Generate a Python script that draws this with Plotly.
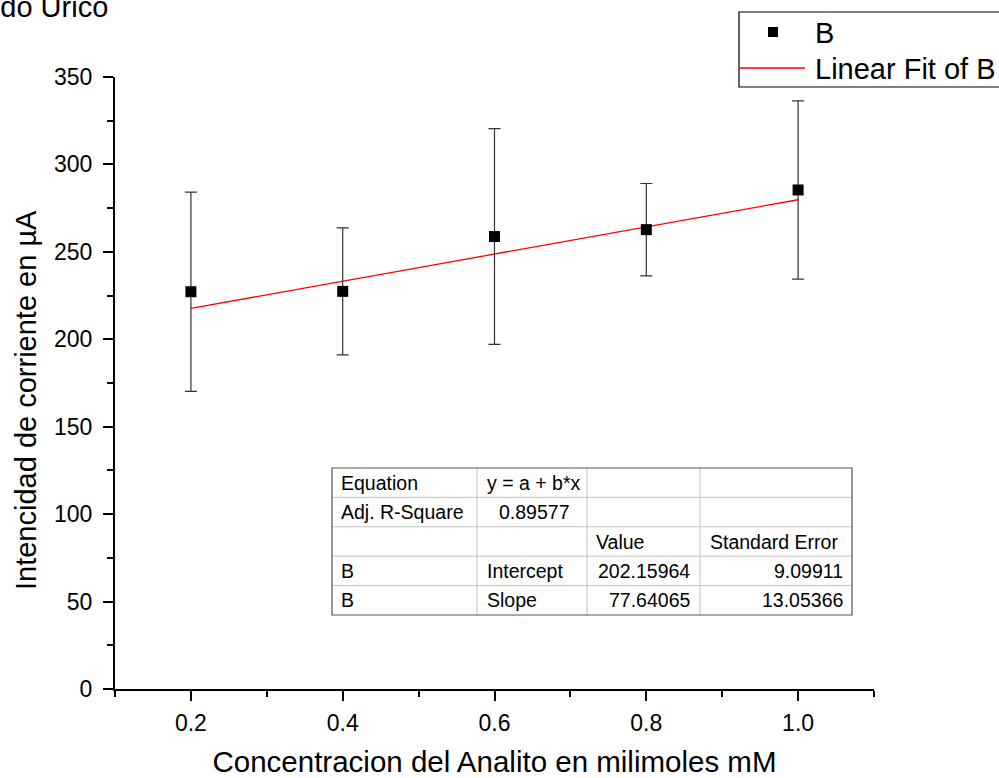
import plotly.graph_objects as go

# ---------------- data ----------------
conc_mM = [0.2, 0.4, 0.6, 0.8, 1.0]
current_uA = [227.2, 227.4, 258.8, 262.7, 285.4]
current_err = [57.0, 36.3, 61.7, 26.4, 51.0]

fit_intercept = 202.15964
fit_slope = 77.64065
fit_intercept_se = 9.09911
fit_slope_se = 13.05366
adj_r_square = 0.89577

x_tickvals = [0.2, 0.4, 0.6, 0.8, 1.0]
x_ticktext = ["0.2", "0.4", "0.6", "0.8", "1.0"]
y_tickvals = [0, 50, 100, 150, 200, 250, 300, 350]

series_name = "B"
fit_name = "Linear Fit of B"
title_text = "Acido Urico"
x_title = "Concentracion del Analito en milimoles mM"
y_title = "Intencidad de corriente en µA"

# ---------------- layout geometry ----------------
W, H = 999, 778
L, R, T, B = 115, 125, 77, 89
PW, PH = W - L - R, H - T - B


def px(X):
    return (X - L) / PW


def py(Y):
    return (H - B - Y) / PH


FONT = "Liberation Sans, Arial, sans-serif"

fit_x = [conc_mM[0], conc_mM[-1]]
fit_y = [fit_intercept + fit_slope * v for v in fit_x]

fig = go.Figure()
fig.add_trace(go.Scatter(
    x=fit_x, y=fit_y, mode="lines", name=fit_name,
    line=dict(color="#ff0000", width=1.3), showlegend=False,
))
fig.add_trace(go.Scatter(
    x=conc_mM, y=current_uA, mode="markers", name=series_name,
    marker=dict(symbol="square", size=11, color="black"),
    error_y=dict(type="data", array=current_err, visible=True,
                 color="#333333", thickness=1.2, width=6),
    showlegend=False,
))

shapes = []
annotations = []

# ---- legend (drawn manually) ----
shapes.append(dict(type="rect", xref="paper", yref="paper",
                   x0=px(739), x1=px(1010), y0=py(87), y1=py(12),
                   line=dict(color="black", width=1.2), fillcolor="white", layer="above"))
shapes.append(dict(type="rect", xref="paper", yref="paper",
                   x0=px(768), x1=px(778), y0=py(37), y1=py(27),
                   line=dict(color="black", width=0), fillcolor="black", layer="above"))
shapes.append(dict(type="line", xref="paper", yref="paper",
                   x0=px(740), x1=px(805), y0=py(68), y1=py(68),
                   line=dict(color="#ff0000", width=1.3), layer="above"))
annotations.append(dict(text=series_name, xref="paper", yref="paper", x=px(813), y=py(33),
                        xanchor="left", yanchor="middle", showarrow=False,
                        font=dict(family=FONT, size=29, color="black")))
annotations.append(dict(text=fit_name, xref="paper", yref="paper", x=px(813), y=py(69),
                        xanchor="left", yanchor="middle", showarrow=False,
                        font=dict(family=FONT, size=29, color="black")))

# ---- title (partially cut off, as in the original) ----
annotations.append(dict(text=title_text, xref="paper", yref="paper", x=px(110), y=py(7),
                        xanchor="right", yanchor="middle", showarrow=False,
                        font=dict(family=FONT, size=29, color="black")))

# ---- y axis title ----
annotations.append(dict(text=y_title, xref="paper", yref="paper", x=px(26), y=py(400),
                        xanchor="center", yanchor="middle", showarrow=False, textangle=-90,
                        font=dict(family=FONT, size=29, color="black")))

# ---- fit statistics table ----
tx0, tx1 = 332, 852
col_lines = [477, 587, 700]
ty0, ty1 = 468, 615
row_h = (ty1 - ty0) / 5
for c in col_lines:
    shapes.append(dict(type="line", xref="paper", yref="paper",
                       x0=px(c), x1=px(c), y0=py(ty0), y1=py(ty1),
                       line=dict(color="#c0c0c0", width=1), layer="above"))
for i in range(1, 5):
    yy = ty0 + i * row_h
    shapes.append(dict(type="line", xref="paper", yref="paper",
                       x0=px(tx0), x1=px(tx1), y0=py(yy), y1=py(yy),
                       line=dict(color="#c0c0c0", width=1), layer="above"))
shapes.append(dict(type="rect", xref="paper", yref="paper",
                   x0=px(tx0), x1=px(tx1), y0=py(ty1), y1=py(ty0),
                   line=dict(color="#555555", width=1.2), layer="above"))

table_cells = [
    # (row, text, x, anchor)
    (0, "Equation", 339, "left"),
    (0, "y = a + b*x", 485, "left"),
    (1, "Adj. R-Square", 339, "left"),
    (1, f"{adj_r_square:.5f}", 572, "right"),
    (2, "Value", 594, "left"),
    (2, "Standard Error", 708, "left"),
    (3, series_name, 339, "left"),
    (3, "Intercept", 485, "left"),
    (3, f"{fit_intercept:.5f}", 692, "right"),
    (3, f"{fit_intercept_se:.5f}", 845, "right"),
    (4, series_name, 339, "left"),
    (4, "Slope", 485, "left"),
    (4, f"{fit_slope:.5f}", 692, "right"),
    (4, f"{fit_slope_se:.5f}", 845, "right"),
]
for r, txt, xx, anc in table_cells:
    annotations.append(dict(text=txt, xref="paper", yref="paper",
                            x=px(xx), y=py(ty0 + (r + 0.5) * row_h),
                            xanchor=anc, yanchor="middle", showarrow=False,
                            font=dict(family=FONT, size=19.5, color="black")))

axis_common = dict(
    showline=True, linecolor="black", linewidth=2,
    ticks="outside", ticklen=10, tickwidth=2, tickcolor="black",
    showgrid=False, zeroline=False, mirror=False,
    tickfont=dict(family=FONT, size=23, color="black"),
)

fig.update_layout(
    width=W, height=H,
    margin=dict(l=L, r=R, t=T, b=B, autoexpand=False),
    paper_bgcolor="white", plot_bgcolor="white",
    showlegend=False,
    shapes=shapes, annotations=annotations,
    xaxis=dict(
        range=[0.1, 1.1], tickvals=x_tickvals, ticktext=x_ticktext,
        minor=dict(ticks="outside", ticklen=6, tickwidth=2, tickcolor="black",
                   tickvals=[0.1, 0.3, 0.5, 0.7, 0.9, 1.1]),
        title=dict(text=x_title, font=dict(family=FONT, size=29.5, color="black"), standoff=18),
        ticklabelstandoff=2,
        **axis_common,
    ),
    yaxis=dict(
        range=[0, 350], tickvals=y_tickvals,
        minor=dict(ticks="outside", ticklen=6, tickwidth=2, tickcolor="black",
                   tickvals=[25, 75, 125, 175, 225, 275, 325]),
        ticklabelstandoff=6,
        **axis_common,
    ),
)

fig.write_html(
    "out.html",
    config={"displayModeBar": False},
    post_script="document.body.style.margin='0';document.body.style.padding='0';",
)
